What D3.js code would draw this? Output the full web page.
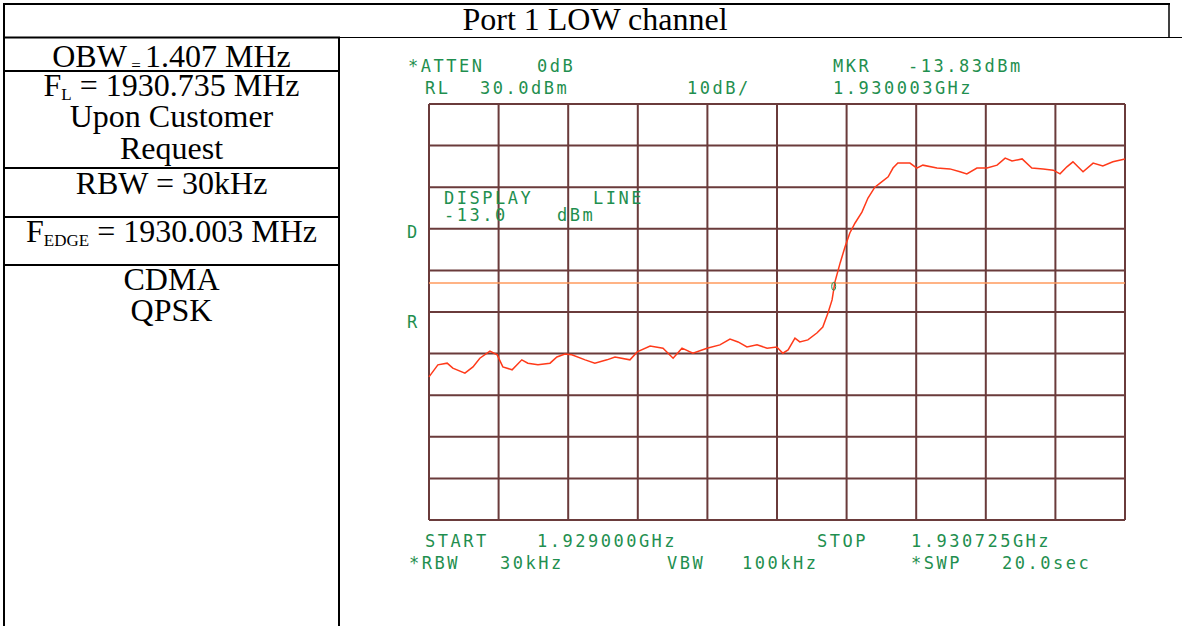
<!doctype html>
<html lang="en">
<head>
<meta charset="UTF-8" />
<script src="https://d3js.org/d3.v7.min.js"></script>
<title>Port 1 LOW channel</title>
<style>
  body { margin: 0; background: #fff; }
</style>
</head>
<body>
<div id="chart"></div>
<script>
// Trace: frequency (MHz) and level (dBm)
const freqs = [1929.000, 1929.022, 1929.045, 1929.059, 1929.089, 1929.109, 1929.126, 1929.151, 1929.169, 1929.183,
  1929.206, 1929.230, 1929.245, 1929.270, 1929.300, 1929.317, 1929.337, 1929.354, 1929.387, 1929.411,
  1929.441, 1929.461, 1929.498, 1929.516, 1929.548, 1929.580, 1929.605, 1929.627, 1929.654, 1929.689,
  1929.721, 1929.746, 1929.766, 1929.788, 1929.813, 1929.838, 1929.862, 1929.877, 1929.890, 1929.907,
  1929.919, 1929.939, 1929.962, 1929.976, 1929.989, 1929.999, 1930.006, 1930.019, 1930.031, 1930.043,
  1930.056, 1930.073, 1930.088, 1930.105, 1930.118, 1930.138, 1930.150, 1930.162, 1930.192, 1930.209,
  1930.224, 1930.259, 1930.291, 1930.316, 1930.333, 1930.358, 1930.383, 1930.408, 1930.428, 1930.445,
  1930.470, 1930.494, 1930.522, 1930.547, 1930.564, 1930.581, 1930.596, 1930.621, 1930.646, 1930.670,
  1930.695, 1930.725]
const levels = [-35.6, -32.7, -32.3, -33.5, -34.7, -33.2, -31.1, -29.4, -30.3, -33.2,
  -33.9, -31.5, -32.3, -32.7, -32.3, -30.8, -30.1, -30.3, -31.5, -32.3,
  -31.5, -30.8, -31.5, -29.6, -28.2, -28.7, -31.1, -28.7, -29.9, -28.7,
  -27.9, -26.5, -27.2, -28.4, -27.9, -28.7, -28.4, -29.9, -29.1, -26.3,
  -27.2, -26.7, -25.0, -23.6, -20.2, -17.1, -12.8, -8.2, -4.4, -1.0,
  1.4, 4.0, 7.4, 10.0, 11.0, 12.5, 14.6, 15.8, 15.8, 14.6,
  15.3, 14.6, 14.4, 13.7, 13.2, 14.6, 14.6, 15.3, 17.0, 16.3,
  16.8, 14.6, 14.4, 14.1, 13.2, 14.9, 16.1, 13.7, 15.8, 15.1,
  16.1, 16.8]

const startMHz = 1929.000
const stopMHz = 1930.725
const refLevel = 30     // RL 30.0dBm
const dbPerDiv = 10
const displayLine = -13.0
const marker = { f: 1930.003, level: -13.83 }

const title = "Port 1 LOW channel"
const topLabels = [
  { text: "*ATTEN", x: 408, y: 72 }, { text: "0dB", x: 537, y: 72 },
  { text: "MKR", x: 833, y: 72 }, { text: "-13.83dBm", x: 908, y: 72 },
  { text: "RL", x: 425, y: 94 }, { text: "30.0dBm", x: 480, y: 94 },
  { text: "10dB/", x: 687, y: 94 }, { text: "1.930003GHz", x: 833, y: 94 },
  { text: "DISPLAY", x: 444, y: 204 }, { text: "LINE", x: 593, y: 204 },
  { text: "-13.0", x: 444, y: 221 }, { text: "dBm", x: 557, y: 221 },
  { text: "D", x: 407, y: 238 }, { text: "R", x: 407, y: 328 },
  { text: "START", x: 425, y: 547 }, { text: "1.929000GHz", x: 537, y: 547 },
  { text: "STOP", x: 817, y: 547 }, { text: "1.930725GHz", x: 911, y: 547 },
  { text: "*RBW", x: 409, y: 569 }, { text: "30kHz", x: 500, y: 569 },
  { text: "VBW", x: 667, y: 569 }, { text: "100kHz", x: 742, y: 569 },
  { text: "*SWP", x: 911, y: 569 }, { text: "20.0sec", x: 1002, y: 569 }
]

const W = 1182, H = 626
const svg = d3.select("#chart").append("svg")
  .attr("width", W).attr("height", H)
  .style("display", "block")

// ---- table frame ----
const tbl = svg.append("g").attr("stroke", "#000").attr("fill", "none")
const colX = 339
tbl.append("line").attr("x1", 3).attr("x2", 1170).attr("y1", 4).attr("y2", 4).attr("stroke-width", 2)
tbl.append("line").attr("x1", 4).attr("x2", 4).attr("y1", 3).attr("y2", H).attr("stroke-width", 2)
tbl.append("line").attr("x1", 1169).attr("x2", 1169).attr("y1", 3).attr("y2", 38).attr("stroke-width", 1.5)
tbl.append("line").attr("x1", 3).attr("x2", colX + 1).attr("y1", 37.5).attr("y2", 37.5).attr("stroke-width", 2)
tbl.append("line").attr("x1", colX).attr("x2", W).attr("y1", 37.5).attr("y2", 37.5).attr("stroke-width", 1)
tbl.append("line").attr("x1", colX).attr("x2", colX).attr("y1", 37).attr("y2", H).attr("stroke-width", 2)
;[71, 168, 217, 265].forEach(y => {
  tbl.append("line").attr("x1", 3).attr("x2", colX + 1).attr("y1", y).attr("y2", y).attr("stroke-width", 2)
})

const serif = "'Liberation Serif', 'Times New Roman', serif"
svg.append("text").attr("x", 595).attr("y", 30).attr("text-anchor", "middle")
  .attr("font-family", serif).attr("font-size", 32).text(title)

const cx = (4 + colX) / 2
function cell(y, parts) {
  const t = svg.append("text").attr("x", cx).attr("y", y).attr("text-anchor", "middle")
    .attr("font-family", serif).attr("font-size", 32)
  parts.forEach(p => {
    const s = t.append("tspan").text(p.t)
    if (p.sub) s.attr("font-size", 17).attr("dy", 4)
    if (p.back) s.attr("dy", -4)
  })
}
cell(67, [{ t: "OBW" }, { t: " = ", sub: true }, { t: "1.407 MHz", back: true }])
cell(96, [{ t: "F" }, { t: "L", sub: true }, { t: " = 1930.735 MHz", back: true }])
cell(127, [{ t: "Upon Customer" }])
cell(159, [{ t: "Request" }])
cell(194, [{ t: "RBW = 30kHz" }])
cell(242, [{ t: "F" }, { t: "EDGE", sub: true }, { t: " = 1930.003 MHz", back: true }])
cell(290, [{ t: "CDMA" }])
cell(321, [{ t: "QPSK" }])

// ---- analyser screen ----
const x = d3.scaleLinear().domain([startMHz, stopMHz]).range([429, 1125])
const y = d3.scaleLinear().domain([refLevel - 10 * dbPerDiv, refLevel]).range([520, 104])

const grid = svg.append("g").attr("stroke", "#5a2626").attr("stroke-width", 2).attr("opacity", 0.9)
d3.range(11).forEach(i => {
  const f = startMHz + i * (stopMHz - startMHz) / 10
  grid.append("line").attr("x1", x(f)).attr("x2", x(f)).attr("y1", y.range()[1]).attr("y2", y.range()[0])
  const l = refLevel - i * dbPerDiv
  grid.append("line").attr("x1", x.range()[0]).attr("x2", x.range()[1]).attr("y1", y(l)).attr("y2", y(l))
})

// display line
svg.append("line").attr("x1", x.range()[0]).attr("x2", x.range()[1])
  .attr("y1", y(displayLine)).attr("y2", y(displayLine))
  .attr("stroke", "#ff9a5c").attr("stroke-width", 1.5)

// trace
const trace = freqs.map((f, i) => [f, levels[i]])
svg.append("path").datum(trace)
  .attr("d", d3.line().x(d => x(d[0])).y(d => y(d[1])))
  .attr("fill", "none").attr("stroke", "#ff3a1a").attr("stroke-width", 1.5)

// marker
svg.append("ellipse").attr("cx", x(marker.f)).attr("cy", y(marker.level))
  .attr("rx", 2).attr("ry", 4).attr("fill", "none").attr("stroke", "#1f8f4f").attr("stroke-width", 1)

const green = "#1f8f4f"
svg.append("g").selectAll("text").data(topLabels).join("text")
  .attr("x", d => d.x).attr("y", d => d.y)
  .attr("font-family", "'DejaVu Sans Mono', monospace")
  .attr("font-size", 17).attr("letter-spacing", 2.5)
  .attr("fill", green)
  .text(d => d.text)
</script>
</body>
</html>
